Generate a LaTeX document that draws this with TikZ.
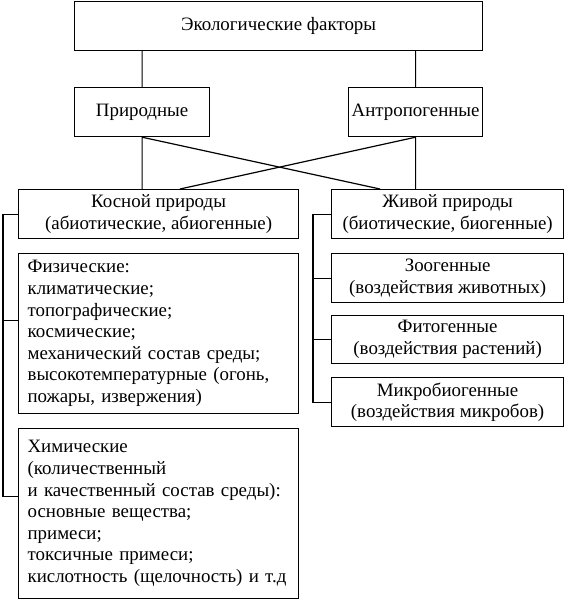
\documentclass[tikz,border=0pt]{standalone}
\usepackage{fontspec}
\setmainfont{Liberation Serif}
\usepackage{tikz}
\usetikzlibrary{positioning}
\tikzset{
        factor/.style={
            rectangle, draw, line width=1.2pt,
            anchor=north west, align=center,
            inner sep=0pt, minimum height=49pt
        },
        listbox/.style={
            rectangle, draw, line width=1.2pt,
            anchor=north west, align=left,
            inner xsep=9pt, inner ysep=0pt,
            text width=262pt, minimum width=280pt
        },
        link/.style={
            draw, line width=1.2pt
        }
    }

\begin{document}
\begin{tikzpicture}[
    x = 1pt, y = -1pt,
    every node/.style = {font=\fontsize{18.9}{21.6}\selectfont},
  ]
    \useasboundingbox (0,0) rectangle (564,599);

    % upper levels
    \node[factor, minimum width=408pt] (eco) at (74,1) {Экологические факторы};
    \node[factor, minimum width=135pt] (prir) at (74,87) {Природные};
    \node[factor, minimum width=134pt] (antr) at (348,87) {Антропогенные};

    % abiotic / biotic
    \node[factor, minimum width=280pt] (kos) at (18,189) {Косной природы\\(абиотические, абиогенные)};
    \node[factor, minimum width=232pt] (ziv) at (331,189) {Живой природы\\(биотические, биогенные)};

    % left column
    \node[listbox, minimum height=160pt] (fiz) at (18,253) {Физические:\\климатические;\\топографические;\\космические;\\механический состав среды;\\высокотемпературные (огонь,\\пожары, извержения)};
    \node[listbox, minimum height=170pt] (him) at (18,428) {Химические\\(количественный\\и качественный состав среды):\\основные вещества;\\примеси;\\токсичные примеси;\\кислотность (щелочность) и т.д};

    % right column
    \node[factor, minimum width=232pt] (zoo) at (331,253) {Зоогенные\\(воздействия животных)};
    \node[factor, minimum width=232pt, minimum height=48pt] (fit) at (331,315) {Фитогенные\\(воздействия растений)};
    \node[factor, minimum width=232pt] (mik) at (331,377) {Микробиогенные\\(воздействия микробов)};

    \coordinate (lbus) at (3,0);
    \coordinate (rbus) at (313,0);
    \coordinate (kosend) at (180,189);
    \coordinate (zivend) at (380,189);
    \coordinate (fizin) at ([yshift=13pt]fiz.west);
    \coordinate (himin) at ([yshift=17pt]him.west);

    \path[link]
    (eco.south -| prir.north) -- (prir.north)
    (eco.south -| antr.north) -- (antr.north)
    (prir.south) -- (prir.south |- kos.north)
    (antr.south) -- (antr.south |- ziv.north)
    (prir.south) -- (zivend)
    (antr.south) -- (kosend);

    % brackets
    \draw[link] (kos.west) -| (lbus |- himin) -- (himin);
    \draw[link] (lbus |- fizin) -- (fizin);
    \draw[link] (ziv.west) -| (rbus |- mik.west) -- (mik.west);
    \draw[link] (rbus |- zoo.west) -- (zoo.west);
    \draw[link] (rbus |- fit.west) -- (fit.west);

\end{tikzpicture}
\end{document}
